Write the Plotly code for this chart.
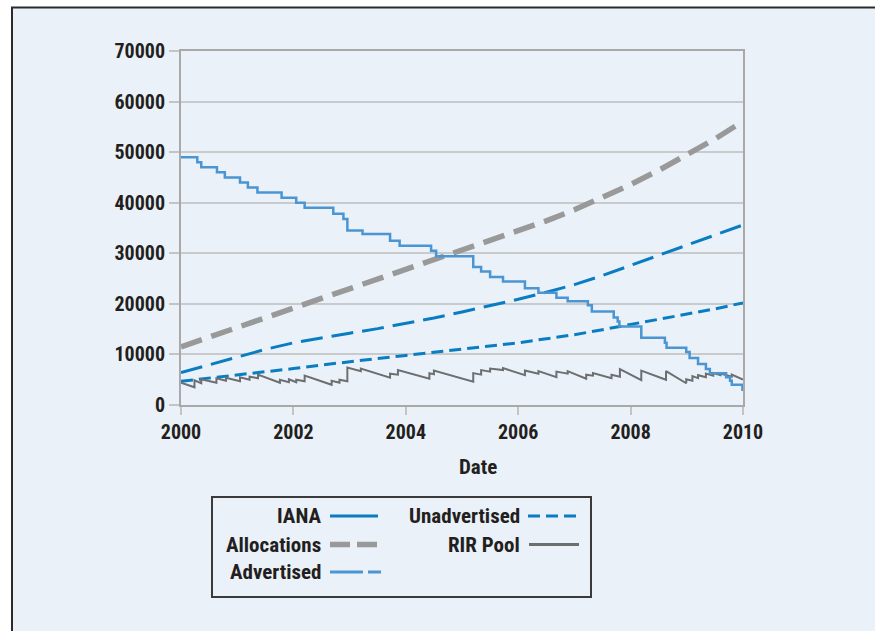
import plotly.graph_objects as go

# ---------------- data ----------------
YEARS = [2000.0, 2000.5, 2001.0, 2001.5, 2002.0, 2002.5, 2003.0, 2003.5, 2004.0, 2004.5,
         2005.0, 2005.5, 2006.0, 2006.5, 2007.0, 2007.5, 2008.0, 2008.5, 2009.0, 2009.5, 2010.0]

ALLOCATIONS = [11500, 13400, 15300, 17200, 19100, 21000, 22900, 24800, 26700, 28600,
               30500, 32400, 34300, 36400, 38600, 41000, 43600, 46400, 49400, 52600, 56100]

ADVERTISED = [6400, 7900, 9500, 11000, 12300, 13300, 14200, 15100, 16100, 17200,
              18400, 19600, 20900, 22300, 23800, 25600, 27600, 29600, 31600, 33600, 35600]

UNADVERTISED = [4700, 5300, 5900, 6500, 7200, 7900, 8600, 9200, 9800, 10400,
                11000, 11600, 12300, 13100, 13900, 14900, 15900, 16900, 17900, 19000, 20200]

IANA_T = [2000.00, 2000.29, 2000.36, 2000.64, 2000.78, 2001.05, 2001.19, 2001.36, 2001.79, 2002.05,
          2002.20, 2002.71, 2002.89, 2002.96, 2003.23, 2003.72, 2003.89, 2004.45, 2004.54, 2005.20,
          2005.34, 2005.50, 2005.73, 2006.12, 2006.36, 2006.68, 2006.88, 2007.24, 2007.31, 2007.70,
          2007.77, 2007.80, 2008.19, 2008.61, 2008.64, 2008.99, 2009.05, 2009.20, 2009.34, 2009.41,
          2009.70, 2009.77, 2009.80, 2009.99, 2010.00]
IANA_V = [49000, 48000, 47000, 46000, 45000, 44000, 43000, 42000, 41000, 40000,
          39000, 37800, 36800, 34500, 33800, 32500, 31500, 30500, 29400, 27300,
          26400, 25300, 24400, 23100, 22200, 21200, 20500, 19700, 18500, 17300,
          16500, 15500, 13300, 12300, 11300, 10500, 9300, 8100, 7100, 6300,
          5500, 4800, 4000, 3000, 3000]

RIR_T = [2000.00, 2000.24, 2000.24, 2000.36, 2000.36, 2000.63, 2000.63, 2000.80, 2000.80,
         2001.05, 2001.05, 2001.22, 2001.22, 2001.37, 2001.37, 2001.76, 2001.76, 2001.92, 2001.92,
         2002.05, 2002.05, 2002.20, 2002.20, 2002.68, 2002.68, 2002.82, 2002.82, 2002.96, 2002.96,
         2003.20, 2003.20, 2003.72, 2003.72, 2003.86, 2003.86, 2004.42, 2004.42, 2004.50, 2004.50,
         2005.20, 2005.20, 2005.34, 2005.34, 2005.50, 2005.50, 2005.73, 2005.73, 2006.12, 2006.12,
         2006.36, 2006.36, 2006.68, 2006.68, 2006.88, 2006.88, 2007.21, 2007.21, 2007.33, 2007.33,
         2007.66, 2007.66, 2007.81, 2007.81, 2008.19, 2008.19, 2008.63, 2008.63, 2008.99, 2008.99,
         2009.10, 2009.10, 2009.20, 2009.20, 2009.34, 2009.34, 2009.47, 2009.47, 2009.60, 2009.60,
         2009.80, 2009.80, 2010.00]
RIR_V = [4400, 3500, 4900, 4300, 5100, 4400, 5300, 4800, 5400,
         4700, 5500, 5000, 5600, 5300, 6000, 4400, 5000, 4500, 5100,
         4500, 5000, 4700, 5800, 4000, 4800, 4400, 5000, 4700, 7400,
         6700, 7200, 5400, 6200, 6000, 6900, 5200, 6300, 6100, 6800,
         4600, 6300, 6000, 6900, 6600, 7200, 6900, 7300, 5900, 6800,
         6200, 6700, 5500, 6600, 6200, 6700, 5200, 6000, 5800, 6300,
         5300, 6000, 5600, 7100, 4900, 6800, 5000, 6700, 4300, 5100,
         4800, 5700, 5300, 5900, 5500, 6200, 5800, 6300, 5900, 6200,
         5600, 6000, 5000]

X_TICKS = [2000, 2002, 2004, 2006, 2008, 2010]
X_TICK_LABELS = ["2000", "2002", "2004", "2006", "2008", "2010"]
Y_TICKS = [0, 10000, 20000, 30000, 40000, 50000, 60000, 70000]
Y_TICK_LABELS = ["0", "10000", "20000", "30000", "40000", "50000", "60000", "70000"]
X_TITLE = "Date"
LEGEND_LABELS = ["IANA", "Allocations", "Advertised", "Unadvertised", "RIR Pool"]

# ---------------- styling ----------------
W, H = 875, 631
ML, MR, MT, MB = 181, 132, 51, 226
PW, PH = W - ML - MR, H - MT - MB

def px(x):   # screen px -> paper
    return (x - ML) / PW

def py(y):
    return (H - MB - y) / PH

FONT = "Roboto Condensed, Liberation Sans Narrow, Arial Narrow, sans-serif"
FS = 20
TXT = "#231f20"
PANEL = "#eaf1f9"
GRAY_AX = "#a9a9a9"
GRID = "#c9cacc"
DARK_BLUE = "#0a7dc2"
LIGHT_BLUE = "#4a95d2"
ALLOC_GRAY = "#999999"
RIR_GRAY = "#6d6e70"

def tfont(size=FS):
    return dict(family=FONT, size=size, color=TXT, weight="bold")

fig = go.Figure()

fig.add_trace(go.Scatter(x=YEARS, y=ALLOCATIONS, mode="lines", name=LEGEND_LABELS[1],
                         line=dict(color=ALLOC_GRAY, width=5.5, dash="22px,10px"), showlegend=False))
fig.add_trace(go.Scatter(x=YEARS, y=ADVERTISED, mode="lines", name=LEGEND_LABELS[2],
                         line=dict(color=DARK_BLUE, width=3, dash="22px,9px"), showlegend=False))
fig.add_trace(go.Scatter(x=YEARS, y=UNADVERTISED, mode="lines", name=LEGEND_LABELS[3],
                         line=dict(color=DARK_BLUE, width=3, dash="12px,6px"), showlegend=False))
fig.add_trace(go.Scatter(x=RIR_T, y=RIR_V, mode="lines", name=LEGEND_LABELS[4],
                         line=dict(color=RIR_GRAY, width=2), showlegend=False))
fig.add_trace(go.Scatter(x=IANA_T, y=IANA_V, mode="lines", name=LEGEND_LABELS[0],
                         line=dict(color=LIGHT_BLUE, width=2.5, shape="hv"), showlegend=False))

shapes = [
    dict(type="rect", xref="paper", yref="paper", x0=px(12), x1=px(885), y0=py(645), y1=py(7.5),
         fillcolor=PANEL, line=dict(color="#2b2b2b", width=2), layer="below"),
    dict(type="rect", xref="paper", yref="paper", x0=px(212), x1=px(591), y0=py(597), y1=py(497),
         fillcolor="rgba(0,0,0,0)", line=dict(color="#3a3a3a", width=2), layer="above"),
]

leg = [
    (LEGEND_LABELS[0], 323, 516, 330, 378, DARK_BLUE, 3, "solid"),
    (LEGEND_LABELS[1], 323, 544.5, 330, 378, ALLOC_GRAY, 5.5, "20px,7px"),
    (LEGEND_LABELS[2], 323, 572, 330, 381, LIGHT_BLUE, 3, "33px,5px"),
    (LEGEND_LABELS[3], 522, 516, 528, 578, DARK_BLUE, 3, "12px,6px"),
    (LEGEND_LABELS[4], 522, 544.5, 529, 579, RIR_GRAY, 3, "solid"),
]
annotations = []
for lab, tx, ty, lx0, lx1, col, wd, ds in leg:
    annotations.append(dict(text=lab, x=px(tx), y=py(ty), xref="paper", yref="paper",
                            xanchor="right", yanchor="middle", showarrow=False,
                            font=tfont(21)))
    shapes.append(dict(type="line", xref="paper", yref="paper", x0=px(lx0), x1=px(lx1),
                       y0=py(ty), y1=py(ty), line=dict(color=col, width=wd, dash=ds)))

annotations.append(dict(text=X_TITLE, x=px(478), y=py(467), xref="paper", yref="paper",
                        xanchor="center", yanchor="middle", showarrow=False, font=tfont(21)))

fig.update_layout(
    width=W, height=H,
    margin=dict(l=ML, r=MR, t=MT, b=MB, pad=0),
    paper_bgcolor="white",
    plot_bgcolor="rgba(0,0,0,0)",
    showlegend=False,
    shapes=shapes,
    annotations=annotations,
    font=tfont(),
)

fig.update_xaxes(range=[2000, 2010], tickvals=X_TICKS, ticktext=X_TICK_LABELS,
                 showgrid=False, zeroline=False,
                 showline=True, linecolor=GRAY_AX, linewidth=2, mirror=True,
                 ticks="outside", ticklen=8, tickwidth=2, tickcolor="#c4c4c4",
                 tickfont=tfont())
fig.update_yaxes(range=[0, 70000], tickvals=Y_TICKS, ticktext=Y_TICK_LABELS,
                 showgrid=True, gridcolor=GRID, gridwidth=1.5, zeroline=False,
                 showline=True, linecolor=GRAY_AX, linewidth=2, mirror=True,
                 ticks="outside", ticklen=10, tickwidth=2, tickcolor="#c4c4c4",
                 tickfont=tfont())

fig.write_html("out.html",
               config={"displayModeBar": False},
               post_script="document.body.style.margin='0';document.body.style.overflow='hidden';")
